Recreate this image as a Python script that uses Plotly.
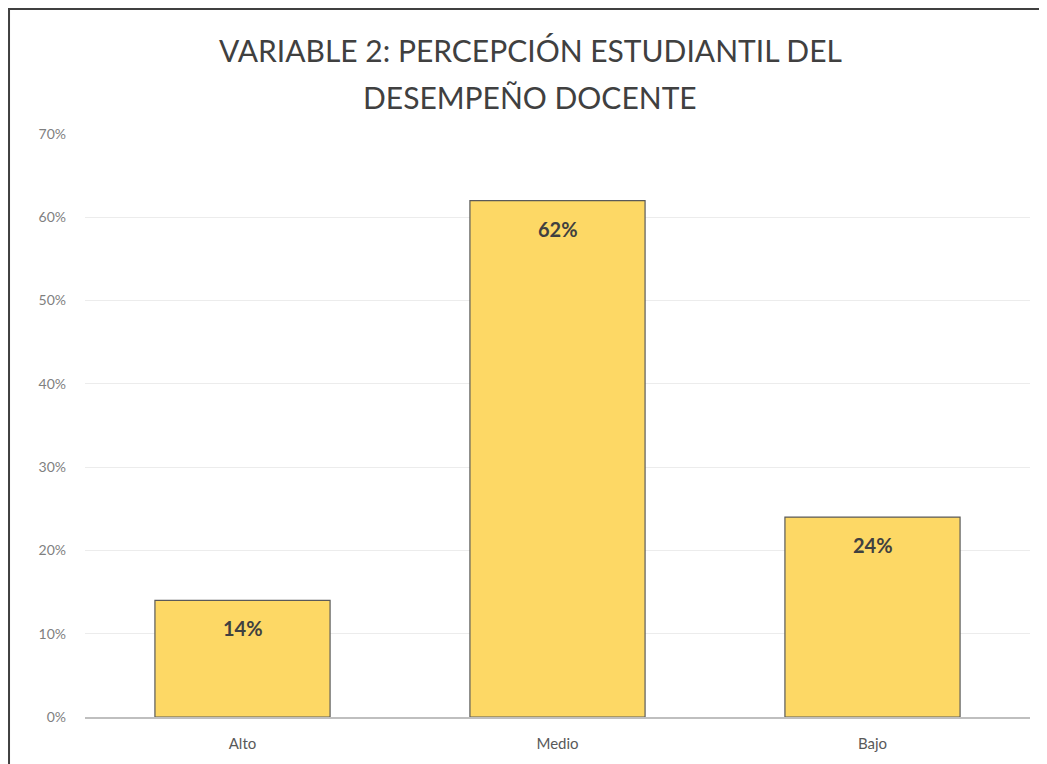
import plotly.graph_objects as go

categories = ["Alto", "Medio", "Bajo"]
values = [0.14, 0.62, 0.24]
labels = ["14%", "62%", "24%"]
y_ticks = [0, 0.1, 0.2, 0.3, 0.4, 0.5, 0.6, 0.7]
y_tick_text = ["0%", "10%", "20%", "30%", "40%", "50%", "60%", "70%"]
title_lines = ["VARIABLE 2: PERCEPCIÓN ESTUDIANTIL DEL", "DESEMPEÑO DOCENTE"]

fig = go.Figure()
fig.add_trace(go.Bar(x=categories,
                     y=values,
                     marker=dict(color="#FDD865", line=dict(color="#5a5a5a", width=1.2)),
                     width=0.556,
                     hoverinfo="skip"))

# value labels a bit below bar top, like excel's "inside end"
for cat, val, lab in zip(categories, values, labels):
    fig.add_annotation(x=cat, y=val, text=lab, showarrow=False,
                       yanchor="middle", yshift=-28,
                       font=dict(family="Lato", size=20, color="#404040", weight="bold"))

# title as two annotations to get the wider line spacing
for i, line in enumerate(title_lines):
    fig.add_annotation(x=0.471, xref="paper", y=1.0 + (84 - 47 * i) / 583, yref="paper",
                       text=line, showarrow=False, xanchor="center", yanchor="middle",
                       font=dict(family="Lato", size=30, color="#404040"))

fig.update_layout(
    width=1039,
    height=756,
    plot_bgcolor="white",
    paper_bgcolor="white",
    margin=dict(l=77, r=17, t=126, b=37),
    showlegend=False,
    xaxis=dict(showgrid=False,
               showline=True, linecolor="#bfbfbf", linewidth=1.5,
               tickfont=dict(family="Lato", size=15, color="#595959"),
               ticks="", ticklabelstandoff=12),
    yaxis=dict(range=[0, 0.7],
               tickvals=y_ticks, ticktext=y_tick_text,
               showgrid=True, gridcolor="#ececec", gridwidth=1,
               zeroline=False,
               tickfont=dict(family="Lato", size=14, color="#7f7f7f"),
               ticklabelstandoff=18),
    shapes=[dict(type="rect", xref="paper", yref="paper",
                 x0=-0.0804, x1=1.05, y0=-0.2, y1=1.2144,
                 line=dict(color="#404040", width=2))],
)

fig.write_html("out.html")
